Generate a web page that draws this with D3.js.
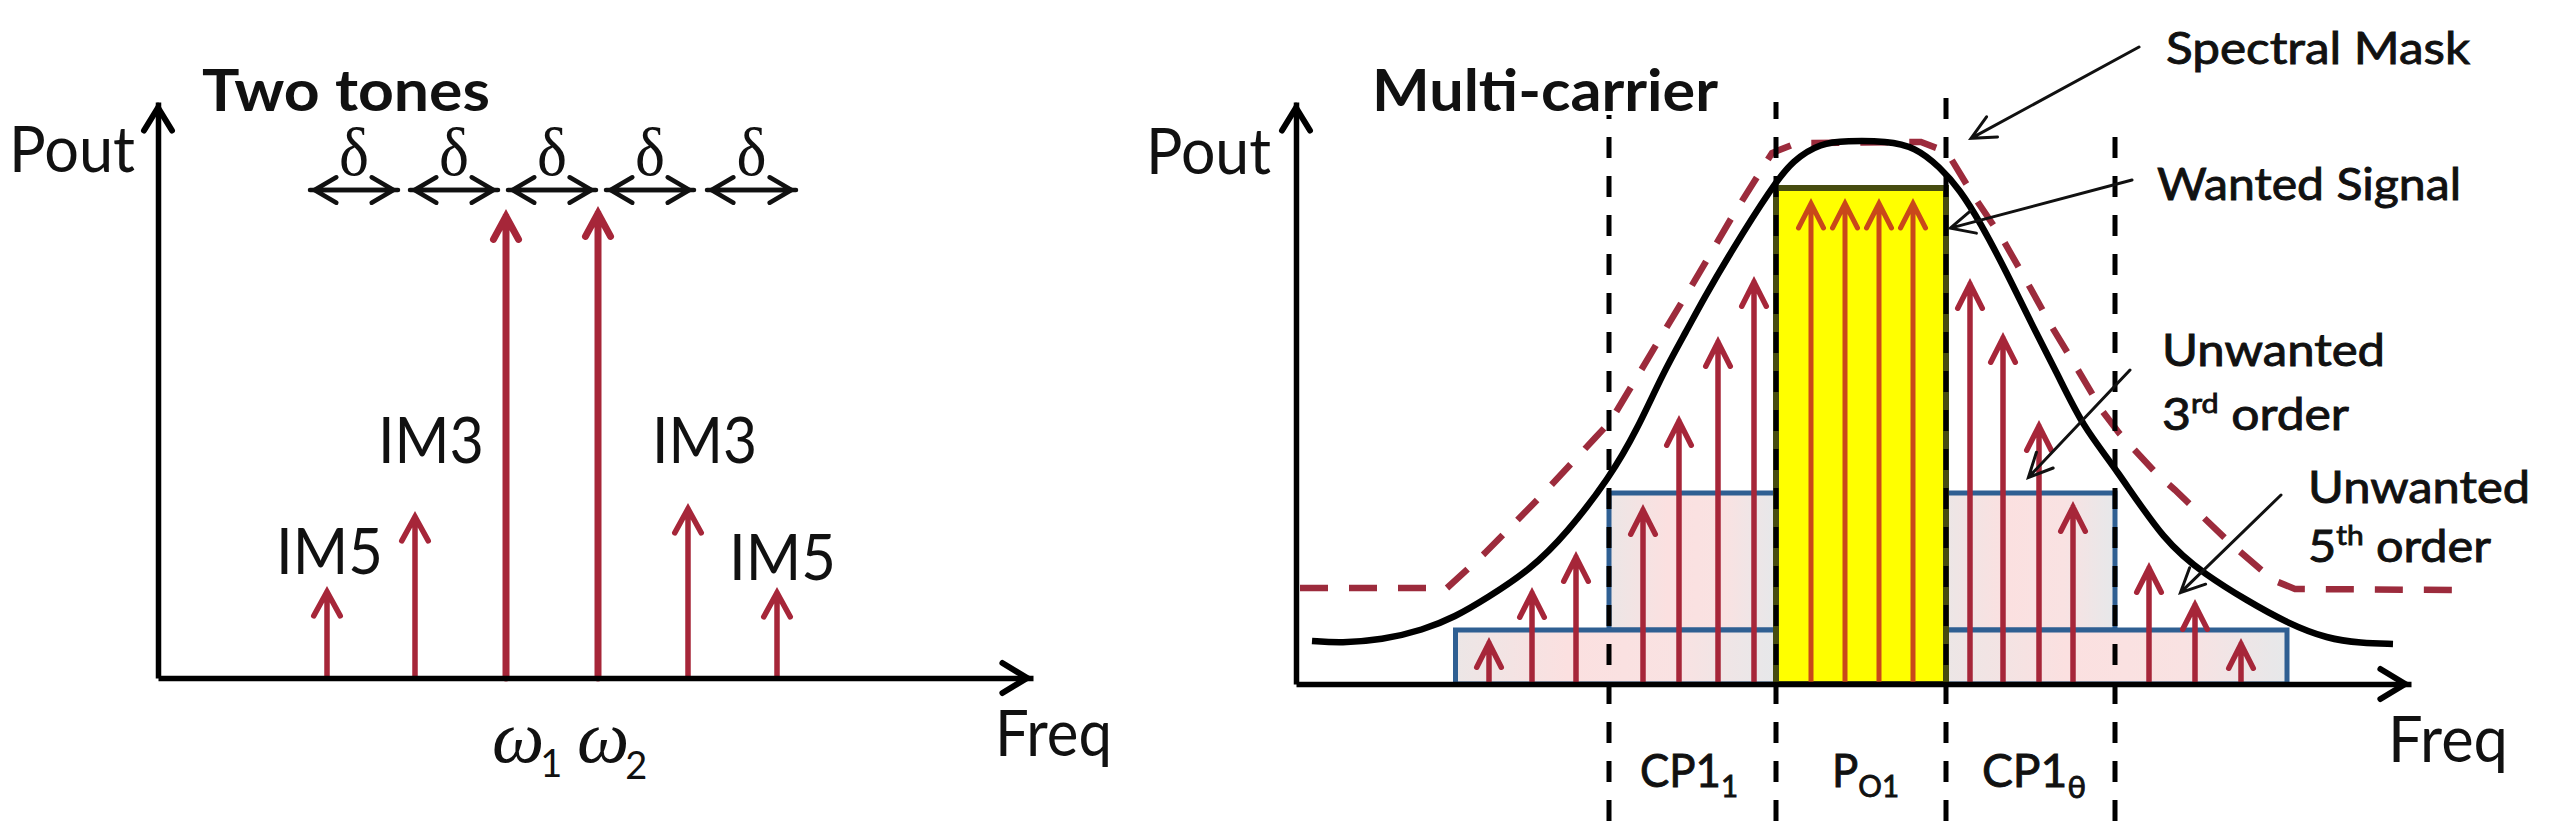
<!DOCTYPE html>
<html><head><meta charset="utf-8">
<script src="https://cdn.jsdelivr.net/npm/d3@7"></script>
<style>html,body{margin:0;padding:0;background:#fff}svg{display:block}text{font-family:Lato,"Open Sans",sans-serif;fill:#111}</style>
</head><body><div id="chart"></div>
<script>
// ---- Two tones panel (arbitrary units measured from the origin)
const twoToneFreq = [169, 257, 348, 440, 530, 619];
const twoTonePower = [92, 167, 469, 472, 175, 91];
const deltaStart = [152, 252, 350, 448, 549];
const deltaStop = [240, 340, 438, 536, 638];
const deltaLevel = 488;

// ---- Multi-carrier panel
const leftToneFreq = [193, 236, 280, 347, 383, 422, 458];
const leftTonePower = [47, 97, 133, 180, 269, 348, 408];
const wantedFreq = [515, 549, 583, 617];
const wantedPower = [486, 486, 486, 486];
const rightToneFreq = [674, 707, 743, 777, 853, 899, 945];
const rightTonePower = [406, 352, 264, 183, 122, 85, 46];
const spectrumFreq = [16,45,86,127,159,191,234,271,314,341,367,391,407,436,476,497,525,550,591,619,644,664,684,711,737,761,787,819,869,910,950,991,1032,1065,1097];
const spectrumPower = [43,41,44,54,67,86,114,151,207,254,311,354,384,434,497,524,541,543,543,537,517,494,462,411,357,311,257,217,141,109,84,61,45,41,40];
const maskFreq = [4,151,189,246,299,314,344,369,395,436,476,501,625,651,677,706,731,756,782,807,823,860,879,934,977,999,1157];
const maskPower = [96,96,131,189,246,262,312,354,397,467,531,541,542,532,489,446,402,357,314,272,251,211,194,141,104,95,94];
const bandEdges = [313, 480, 650, 819];
const bandTops = [115, 102, 91, 137];
const fifthBand = [159.5, 991];
const fifthLevel = 54;
const thirdLevel = 191;
const wantedLevel = 496;

const W = 2560, H = 839;
const svg = d3.select("#chart").append("svg").attr("width", W).attr("height", H).attr("viewBox", `0 0 ${W} ${H}`);
svg.append("rect").attr("width", W).attr("height", H).attr("fill", "#fff");

const x1 = d3.scaleLinear().domain([0, 875]).range([158, 1033]);
const y1 = d3.scaleLinear().domain([0, 576]).range([678, 102]);
const x2 = d3.scaleLinear().domain([0, 1115]).range([1296, 2411]);
const y2 = d3.scaleLinear().domain([0, 582]).range([684, 102]);

const RED = "#a62639";

// back and half describe the visible size of the head, stroke included
function arrow(g, xa, ya, xb, yb, color, width, back, half) {
  const a = Math.atan2(yb - ya, xb - xa), c = Math.cos(a), s = Math.sin(a);
  const h = half - width / 2, b = back - width * 0.7;
  // the mitred tip reaches past the path: pull the path back so the visible tip lands on the value
  const miter = (width / 2) / Math.sin(Math.atan2(h, b));
  const tx = xb - miter * c, ty = yb - miter * s;
  const p = d3.path();
  p.moveTo(xa, ya); p.lineTo(tx, ty);
  p.moveTo(tx - b * c + h * s, ty - b * s - h * c);
  p.lineTo(tx, ty);
  p.lineTo(tx - b * c - h * s, ty - b * s + h * c);
  return g.append("path").attr("d", p.toString()).attr("fill", "none").attr("stroke", color)
    .attr("stroke-width", width).attr("stroke-linejoin", "miter").attr("stroke-miterlimit", 6).attr("stroke-linecap", "round");
}
function label(content, x, y, size, len, opts = {}) {
  const t = svg.append("text").attr("x", x).attr("y", y).attr("font-size", size)
    .attr("font-weight", opts.weight || 400);
  if (opts.family) t.style("font-family", opts.family);
  if (opts.italic) t.attr("font-style", "italic");
  if (opts.thick) t.style("stroke", "#111").style("stroke-width", opts.thick);
  content.forEach(c => {
    if (typeof c === "string") t.append("tspan").text(c);
    else {
      const ts = t.append("tspan").text(c.t);
      if (c.dy) ts.attr("dy", c.dy);
      if (c.dx) ts.attr("dx", c.dx);
      if (c.size) ts.attr("font-size", c.size);
      if (c.family) ts.style("font-family", c.family);
      if (c.upright) ts.attr("font-style", "normal");
    }
  });
  if (len) t.attr("textLength", len).attr("lengthAdjust", "spacingAndGlyphs");
  return t;
}
function drawAxes(x, y) {
  const gx = svg.append("g").attr("transform", `translate(0,${y(0)})`)
    .call(d3.axisBottom(x).tickValues([]).tickSize(0).tickSizeOuter(0));
  gx.select(".domain").attr("stroke", "#000").attr("stroke-width", 5.5);
  const gy = svg.append("g").attr("transform", `translate(${x(0)},0)`)
    .call(d3.axisLeft(y).tickValues([]).tickSize(0).tickSizeOuter(0));
  gy.select(".domain").attr("stroke", "#000").attr("stroke-width", 5.5);
  const [xd0, xd1] = x.domain(), [yd0, yd1] = y.domain();
  arrow(svg, x(xd1) - 12, y(yd0), x(xd1), y(yd0), "#000", 6, 29, 18);
  arrow(svg, x(xd0), y(yd1) + 12, x(xd0), y(yd1), "#000", 6, 27, 17);
}

// ================= Left panel
const left = svg.append("g");
twoToneFreq.forEach((f, i) => {
  const big = twoTonePower[i] > 300;
  arrow(left, x1(f), y1(0), x1(f), y1(twoTonePower[i]), RED, big ? 7 : 5.5, 28, 16);
});
deltaStart.forEach((s, i) => {
  arrow(left, x1(s), y1(deltaLevel), x1(deltaStop[i]), y1(deltaLevel), "#111", 4.5, 25, 15);
  arrow(left, x1(deltaStop[i]), y1(deltaLevel), x1(s), y1(deltaLevel), "#111", 4.5, 25, 15);
  label(["δ"], x1((s + deltaStop[i]) / 2) - 15, 175, 68, 30, {family: '"Liberation Serif",serif'});
});
drawAxes(x1, y1);

label(["Two tones"], 202, 111, 57, 288, {weight: 700});
label(["Pout"], 9, 172, 63, 126);
label(["IM3"], 378, 463, 63, 106);
label(["IM3"], 652, 463, 63, 105);
label(["IM5"], 276, 574, 63, 107);
label(["IM5"], 729, 580, 63, 107);
label(["Freq"], 995, 756, 63, 117);
const sub1 = '"Lato",sans-serif';
label(["ω", {t:"1", dy:15, dx:-4, size:38, family:sub1, upright:true}], 492, 762, 74, null, {family:'"Liberation Serif",serif', italic:true});
label(["ω", {t:"2", dy:17, dx:-4, size:38, family:sub1, upright:true}], 577, 762, 74, null, {family:'"Liberation Serif",serif', italic:true});

// ================= Right panel
const defs = svg.append("defs");
const grad = defs.append("linearGradient").attr("id", "pinkFill");
[[0, "#ece6e6"], [0.35, "#fbe0e0"], [0.7, "#f9e2e2"], [1, "#e6e8ea"]].forEach(d =>
  grad.append("stop").attr("offset", d[0]).attr("stop-color", d[1]));

const right = svg.append("g");
const BLUE = "#2f5f92";
function band(a, b, lo, hi) {
  right.append("rect").attr("x", x2(a)).attr("y", y2(hi)).attr("width", x2(b) - x2(a)).attr("height", y2(lo) - y2(hi))
    .attr("fill", "url(#pinkFill)").attr("stroke", BLUE).attr("stroke-width", 5);
}
band(bandEdges[0], bandEdges[1], fifthLevel, thirdLevel);
band(bandEdges[2], bandEdges[3], fifthLevel, thirdLevel);
band(fifthBand[0], bandEdges[1], 0, fifthLevel);
band(bandEdges[2], fifthBand[1], 0, fifthLevel);
right.append("rect").attr("x", x2(bandEdges[1])).attr("y", y2(wantedLevel))
  .attr("width", x2(bandEdges[2]) - x2(bandEdges[1])).attr("height", y2(0) - y2(wantedLevel))
  .attr("fill", "#ffff00").attr("stroke", "#474c10").attr("stroke-width", 6);

leftToneFreq.forEach((f, i) => arrow(right, x2(f), y2(0), x2(f), y2(leftTonePower[i]), RED, 5.5, 28, 15));
rightToneFreq.forEach((f, i) => arrow(right, x2(f), y2(0), x2(f), y2(rightTonePower[i]), RED, 5.5, 28, 15));
wantedFreq.forEach((f, i) => arrow(right, x2(f), y2(0), x2(f), y2(wantedPower[i]), "#c9481a", 5, 28, 15));

// spectral mask
right.append("path").datum(d3.zip(maskFreq, maskPower))
  .attr("d", d3.line().x(d => x2(d[0])).y(d => y2(d[1])))
  .attr("fill", "none").attr("stroke", "#9c2b3c").attr("stroke-width", 6.5)
  .attr("stroke-dasharray", "28 21").attr("stroke-linecap", "butt");

// dashed band edges
bandEdges.forEach((e, i) => {
  const startY = bandTops[i];
  const offset = ((startY - 20) % 39 + 39) % 39;
  right.append("line").attr("x1", x2(e)).attr("x2", x2(e)).attr("y1", startY).attr("y2", H)
    .attr("stroke", "#000").attr("stroke-width", 5).attr("stroke-dasharray", "21 18").attr("stroke-dashoffset", offset);
});

// signal spectrum
right.append("path").datum(d3.zip(spectrumFreq, spectrumPower))
  .attr("d", d3.line().curve(d3.curveBasis).x(d => x2(d[0])).y(d => y2(d[1])))
  .attr("fill", "none").attr("stroke", "#000").attr("stroke-width", 6.5).attr("stroke-linecap", "butt");

// callout arrows
[[2139, 47, 1968, 140], [2132, 180, 1947, 229], [2130, 370, 2026, 480], [2281, 495, 2178, 595]].forEach(c =>
  arrow(right, c[0], c[1], c[2], c[3], "#111", 3, 26, 13));

drawAxes(x2, y2);

label(["Multi-carrier"], 1372, 111, 57, 346, {weight: 700});
label(["Pout"], 1146, 174, 63, 125);
label(["Freq"], 2388, 762, 63, 120);
const mid = {thick: 0.9};
label(["Spectral Mask"], 2166, 64, 44, 304, mid);
label(["Wanted Signal"], 2157, 200, 44, 304, mid);
label(["Unwanted"], 2162, 366, 44, 223, mid);
label(["3", {t:"rd", dy:-17, size:27}, {t:" order", dy:17}], 2162, 430, 44, 187, mid);
label(["Unwanted"], 2308, 503, 44, 222, mid);
label(["5", {t:"th", dy:-17, size:27}, {t:" order", dy:17}], 2308, 562, 44, 183, mid);
label(["CP1", {t:"1", dy:10, size:31}], 1640, 787, 46, 98, mid);
label(["P", {t:"O1", dy:10, size:31}], 1832, 787, 46, 67, mid);
label(["CP1", {t:"θ", dy:11, size:31}], 1982, 787, 46, 104, mid);
</script></body></html>
